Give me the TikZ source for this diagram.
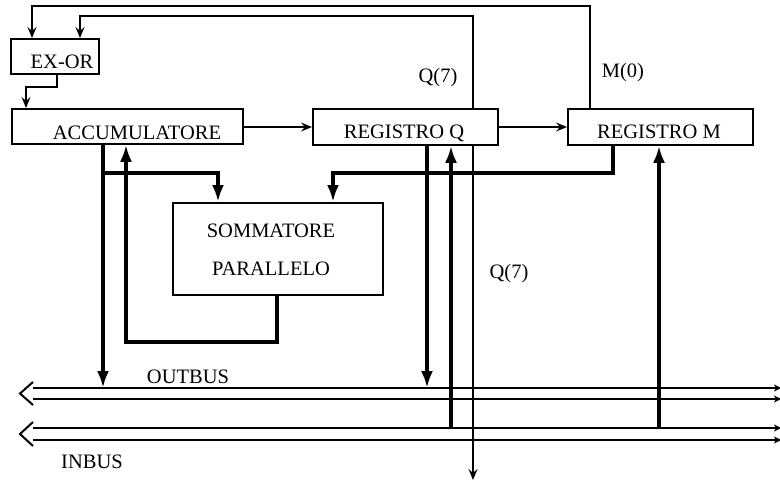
\documentclass[tikz,border=0pt]{standalone}
\usepackage{fontspec}
\setmainfont{Liberation Serif}
\usetikzlibrary{arrows.meta}
\begin{document}
\begin{tikzpicture}[x=1pt,y=-1pt,
  box/.style={draw, line width=1.8pt, inner sep=0pt, anchor=north west},
  lbl/.style={font=\fontsize{20.5}{24}\selectfont, anchor=base, inner sep=0pt},
  wire/.style={line width=1.6pt},
  fat/.style={line width=4pt},
  busline/.style={line width=2pt},
  tarr/.style={-{Stealth[length=11pt,width=9pt,inset=4pt]}},
  farr/.style={-{Latex[length=17pt,width=12pt]}},
  barr/.style={-{Stealth[length=7pt,width=7pt,inset=2pt]}},
]
\fill[white] (0,0) rectangle (780,482);
\useasboundingbox (0,0) rectangle (780,482);

% boxes
\node[box, minimum width=88pt, minimum height=35pt] (exor) at (10,38) {};
\node[box, minimum width=231pt, minimum height=35pt] (acc) at (11,108) {};
\node[box, minimum width=185pt, minimum height=36pt] (regq) at (312,108) {};
\node[box, minimum width=185pt, minimum height=36pt] (regm) at (567,108) {};
\node[box, minimum width=210pt, minimum height=92pt] (som) at (172,202) {};

% texts
\node[lbl] (texor) at (62,68) {EX-OR};
\node[lbl] (tacc) at (137,139.5) {ACCUMULATORE};
\node[lbl] (tregq) at (404,138) {REGISTRO Q};
\node[lbl] (tregm) at (659,138) {REGISTRO M};
\node[lbl] (tsom1) at (271,237) {SOMMATORE};
\node[lbl] (tsom2) at (271,275) {PARALLELO};
\node[lbl] (tq7a) at (438,82) {Q(7)};
\node[lbl] (tm0) at (623,77) {M(0)};
\node[lbl] (tq7b) at (509,278) {Q(7)};
\node[lbl] (tout) at (188,383) {OUTBUS};
\node[lbl] (tin) at (92,468) {INBUS};

% bus coordinates
\coordinate (otopL) at (33,388);  \coordinate (otopR) at (781,388);
\coordinate (obotL) at (33,399);  \coordinate (obotR) at (781,399);
\coordinate (itopL) at (33,428);  \coordinate (itopR) at (781,428);
\coordinate (ibotL) at (33,440);  \coordinate (ibotR) at (781,440);
\coordinate (otip) at (20,393.5);
\coordinate (itip) at (20,434);
\coordinate (oarmT) at (33,382); \coordinate (oarmB) at (33,405);
\coordinate (iarmT) at (33,422); \coordinate (iarmB) at (33,446);
\coordinate (q7end) at (473,480);

% buses
\draw[busline, barr] (otopL) -- (otopR);
\draw[busline, barr] (obotL) -- (obotR);
\draw[busline, barr] (itopL) -- (itopR);
\draw[busline, barr] (ibotL) -- (ibotR);
\draw[busline, line join=miter] (oarmT) -- (otip) -- (oarmB);
\draw[busline, line join=miter] (iarmT) -- (itip) -- (iarmB);

% thin wires
\draw[wire, tarr] (regm.north -| 590,0) |- (32,6) -- (exor.north -| 32,0);
\draw[wire, tarr] (regq.north -| 473,0) |- (80,16) -- (exor.north -| 80,0);
\draw[wire, tarr] (exor.south -| 57,0) |- (26,87) -- (acc.north -| 26,0);
\draw[wire, tarr] (acc.east |- 0,127) -- (regq.west |- 0,127);
\draw[wire, tarr] (regq.east |- 0,127) -- (regm.west |- 0,127);
\draw[wire, tarr] (regq.south -| 473,0) -- (q7end);

% thick wires
\draw[fat, farr] (acc.south -| 103,0) -- (otopL -| 103,0);
\draw[fat, farr] (103,173) -| (som.north -| 218,0);
\draw[fat, farr] (regm.south -| 613,0) |- (333,173) -- (som.north -| 333,0);
\draw[fat, farr] (som.south -| 277,0) |- (126,342) -- (acc.south -| 126,0);
\draw[fat, farr] (regq.south -| 427,0) -- (otopL -| 427,0);
\draw[fat, farr] (itopL -| 451,0) -- (regq.south -| 451,0);
\draw[fat, farr] (itopL -| 659,0) -- (regm.south -| 659,0);
\end{tikzpicture}
\end{document}
